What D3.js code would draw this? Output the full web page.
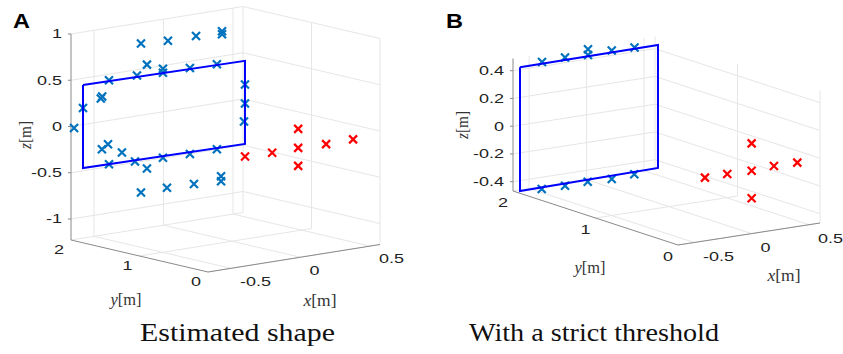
<!DOCTYPE html>
<meta charset="utf-8">
<html>
<script src="https://d3js.org/d3.v7.min.js"></script>
<style>
  body { margin: 0; background: #fff; }
</style>
<body>
<div id="my_dataviz"></div>
<script>

    // ---- panel A : estimated shape ----
    const aXTicks = [-0.5, 0, 0.5]
    const aYTicks = [0, 1, 2]
    const aZTicks = [-1, -0.5, 0, 0.5, 1]

    const aBlueX = [-0.211, -0.017, 0.185, 0.372, 0.372, -0.168, -0.053, -0.053, -0.441, -0.24, 0.141, 0.335,
                    -0.49, -0.50, -0.628, -0.643, 0.537, 0.537, 0.530, -0.492, -0.448, -0.348, -0.441, -0.254,
                    -0.168, -0.053, 0.141, 0.335, -0.211, -0.024, 0.170, 0.365, 0.365]
    const aBlueY = [1.9, 1.9, 1.9, 1.9, 1.9, 1.9, 1.9, 1.9, 1.9, 1.9, 1.9, 1.9,
                    1.9, 1.9, 1.9, 2.0, 1.9, 1.9, 1.9, 1.9, 1.9, 1.9, 1.9, 1.9,
                    1.9, 1.9, 1.9, 1.9, 1.9, 1.9, 1.9, 1.9, 1.9]
    const aBlueZ = [0.805, 0.788, 0.791, 0.798, 0.766, 0.567, 0.495, 0.452, 0.463, 0.466, 0.456, 0.450,
                    0.30, 0.28, 0.208, -0.022, 0.183, -0.022, -0.215, -0.270, -0.227, -0.339, -0.445, -0.46,
                    -0.557, -0.468, -0.473, -0.469, -0.806, -0.799, -0.805, -0.768, -0.822]

    const aRedX = [-0.3, -0.105, 0.082, 0.283, 0.477, 0.082, 0.082]
    const aRedY = [0.2, 0.2, 0.2, 0.2, 0.2, 0.2, 0.2]
    const aRedZ = [-0.100, -0.106, -0.099, -0.107, -0.102, 0.106, -0.294]

    const aRectX = [-0.628, 0.537, 0.537, -0.628, -0.628]
    const aRectY = [1.9, 1.9, 1.9, 1.9, 1.9]
    const aRectZ = [0.457, 0.438, -0.460, -0.441, 0.457]

    // ---- panel B : with a strict threshold ----
    const bXTicks = [-0.5, 0, 0.5]
    const bYTicks = [0, 1, 2]
    const bZTicks = [-0.4, -0.2, 0, 0.2, 0.4]

    const bBlueX = [-0.4235, -0.2235, -0.0235, -0.0235, 0.183, 0.381, -0.426, -0.2235, -0.026, 0.183, 0.379]
    const bBlueY = [1.95, 1.95, 1.95, 1.95, 1.95, 1.95, 1.95, 1.95, 1.95, 1.95, 1.95]
    const bBlueZ = [0.445, 0.451, 0.485, 0.444, 0.450, 0.446, -0.470, -0.473, -0.469, -0.476, -0.468]

    const bRedX = [-0.262, -0.068, 0.144, 0.338, 0.541, 0.144, 0.144]
    const bRedY = [0.2, 0.2, 0.2, 0.2, 0.2, 0.2, 0.2]
    const bRedZ = [-0.069, -0.068, -0.071, -0.062, -0.064, 0.126, -0.269]

    const bRectX = [-0.615, 0.585, 0.585, -0.615, -0.615]
    const bRectY = [1.95, 1.95, 1.95, 1.95, 1.95]
    const bRectZ = [0.431, 0.438, -0.448, -0.461, 0.431]

    // layout of each 3d box: O is the screen point of (xmin, ymin, zmin),
    // EX / EY / EZ are the screen vectors of the full x / y / z ranges
    const panels = [
      {letter: "A", letterAt: [13, 28], title: "Estimated shape", titleAt: [237.5, 341], titleLen: 195,
       xDom: [-0.665, 0.572], yDom: [0, 2], zDom: [-1.227, 1.0],
       O: [208, 272], EX: [172, -27.5], EY: [-137, -32], EZ: [0, -206],
       xTicks: aXTicks, yTicks: aYTicks, zTicks: aZTicks,
       xOff: [9, 13], yOff: [-12, 10], zOff: -9,
       xLabAt: [320, 300], yLabAt: [126, 299], zLabAt: [25, 135],
       blue: [aBlueX, aBlueY, aBlueZ], red: [aRedX, aRedY, aRedZ], rect: [aRectX, aRectY, aRectZ]},
      {letter: "B", letterAt: [446, 28], title: "With a strict threshold", titleAt: [594, 341], titleLen: 250,
       xDom: [-0.64, 0.595], yDom: [0, 2], zDom: [-0.467, 0.488],
       O: [678, 245], EX: [142, -22], EY: [-165, -54], EZ: [0, -132.5],
       xTicks: bXTicks, yTicks: bYTicks, zTicks: bZTicks,
       xOff: [9, 14], yOff: [-10, 12], zOff: -9,
       xLabAt: [784, 275], yLabAt: [590, 267], zLabAt: [462, 125],
       blue: [bBlueX, bBlueY, bBlueZ], red: [bRedX, bRedY, bRedZ], rect: [bRectX, bRectY, bRectZ]}
    ]

    const width = 843, height = 354

    const svg = d3.select("#my_dataviz")
      .append("svg")
        .attr("width", width)
        .attr("height", height)
        .style("display", "block")

    const gridColor = "#e6e6e6"
    const axisColor = "#8a8a8a"
    const textColor = "#222"
    const markerPath = "M-4,-4L4,4M-4,4L4,-4"

    panels.forEach(function(p) {
      // scales put each data axis on 0..1 of its box edge
      const sx = d3.scaleLinear().domain(p.xDom).range([0, 1])
      const sy = d3.scaleLinear().domain(p.yDom).range([0, 1])
      const sz = d3.scaleLinear().domain(p.zDom).range([0, 1])
      const proj = function(x, y, z) {
        return [p.O[0] + sx(x) * p.EX[0] + sy(y) * p.EY[0] + sz(z) * p.EZ[0],
                p.O[1] + sx(x) * p.EX[1] + sy(y) * p.EY[1] + sz(z) * p.EZ[1]]
      }
      const x0 = p.xDom[0], x1 = p.xDom[1]
      const y0 = p.yDom[0], y1 = p.yDom[1]
      const z0 = p.zDom[0], z1 = p.zDom[1]

      const g = svg.append("g")

      // grid on the back walls and the floor
      const segs = []
      p.xTicks.forEach(t => { segs.push([[t, y1, z0], [t, y1, z1]]); segs.push([[t, y0, z0], [t, y1, z0]]) })
      p.yTicks.forEach(t => { segs.push([[x1, t, z0], [x1, t, z1]]); segs.push([[x0, t, z0], [x1, t, z0]]) })
      p.zTicks.forEach(t => { segs.push([[x0, y1, t], [x1, y1, t]]); segs.push([[x1, y0, t], [x1, y1, t]]) })
      g.selectAll("line.grid")
        .data(segs)
        .join("line")
          .attr("class", "grid")
          .attr("x1", d => proj(...d[0])[0]).attr("y1", d => proj(...d[0])[1])
          .attr("x2", d => proj(...d[1])[0]).attr("y2", d => proj(...d[1])[1])
          .attr("stroke", gridColor)
          .attr("stroke-width", 1)

      // axis lines
      const axes = [[[x0, y1, z0], [x0, y1, z1]], [[x0, y1, z0], [x0, y0, z0]], [[x0, y0, z0], [x1, y0, z0]]]
      g.selectAll("line.axis")
        .data(axes)
        .join("line")
          .attr("class", "axis")
          .attr("x1", d => proj(...d[0])[0]).attr("y1", d => proj(...d[0])[1])
          .attr("x2", d => proj(...d[1])[0]).attr("y2", d => proj(...d[1])[1])
          .attr("stroke", axisColor)
          .attr("stroke-width", 1)

      const tickText = function(sel) {
        sel.attr("dominant-baseline", "central")
          .style("font-family", "'Liberation Sans', Arial, sans-serif")
          .style("font-size", "12px")
          .attr("fill", textColor)
      }

      // z ticks and labels
      p.zTicks.forEach(function(t) {
        const q = proj(x0, y1, t)
        g.append("line")
          .attr("x1", q[0] - 3).attr("y1", q[1]).attr("x2", q[0]).attr("y2", q[1])
          .attr("stroke", axisColor)
        g.append("text")
          .attr("transform", `translate(${q[0] + p.zOff},${q[1]}) scale(1.5,1)`)
          .attr("text-anchor", "end")
          .call(tickText)
          .text(t)
      })
      // y ticks and labels
      p.yTicks.forEach(function(t) {
        const q = proj(x0, t, z0)
        g.append("text")
          .attr("transform", `translate(${q[0] + p.yOff[0]},${q[1] + p.yOff[1]}) scale(1.5,1)`)
          .attr("text-anchor", "middle")
          .call(tickText)
          .text(t)
      })
      // x ticks and labels
      p.xTicks.forEach(function(t) {
        const q = proj(t, y0, z0)
        g.append("text")
          .attr("transform", `translate(${q[0] + p.xOff[0]},${q[1] + p.xOff[1]}) scale(1.5,1)`)
          .attr("text-anchor", "start")
          .call(tickText)
          .text(t)
      })

      // axis titles, x[m] y[m] z[m]
      const labs = [["x", p.xLabAt, 0, 33], ["y", p.yLabAt, 0, 31], ["z", p.zLabAt, -90, 28]]
      labs.forEach(function(l) {
        const t = g.append("text")
          .attr("transform", `translate(${l[1][0]},${l[1][1]}) rotate(${l[2]})`)
          .attr("text-anchor", "middle")
          .attr("dominant-baseline", "central")
          .attr("textLength", l[3])
          .attr("lengthAdjust", "spacingAndGlyphs")
          .style("font-family", "'Liberation Serif', 'Times New Roman', serif")
          .style("font-size", "16px")
          .attr("fill", "#333")
        t.append("tspan").style("font-style", "italic").text(l[0])
        t.append("tspan").text("[m]")
      })

      // blue measured points
      const blue = d3.range(p.blue[0].length).map(i => proj(p.blue[0][i], p.blue[1][i], p.blue[2][i]))
      g.selectAll("path.blue")
        .data(blue)
        .join("path")
          .attr("class", "blue")
          .attr("d", markerPath)
          .attr("transform", d => `translate(${d[0]},${d[1]})`)
          .attr("stroke", "#0072BD")
          .attr("stroke-width", 2.2)
          .attr("fill", "none")

      // estimated rectangle
      const rect = d3.range(p.rect[0].length).map(i => proj(p.rect[0][i], p.rect[1][i], p.rect[2][i]))
      g.append("path")
        .attr("d", d3.line()(rect))
        .attr("stroke", "#0000FF")
        .attr("stroke-width", 2)
        .attr("fill", "none")

      // red points
      const red = d3.range(p.red[0].length).map(i => proj(p.red[0][i], p.red[1][i], p.red[2][i]))
      g.selectAll("path.red")
        .data(red)
        .join("path")
          .attr("class", "red")
          .attr("d", markerPath)
          .attr("transform", d => `translate(${d[0]},${d[1]})`)
          .attr("stroke", "#FF0000")
          .attr("stroke-width", 2.2)
          .attr("fill", "none")

      // panel letter and caption
      g.append("text")
        .attr("transform", `translate(${p.letterAt[0]},${p.letterAt[1]}) scale(1.12,1)`)
        .style("font-family", "'Liberation Sans', Arial, sans-serif")
        .style("font-size", "21px")
        .style("font-weight", "bold")
        .attr("fill", "#000")
        .text(p.letter)
      g.append("text")
        .attr("x", p.titleAt[0])
        .attr("y", p.titleAt[1])
        .attr("text-anchor", "middle")
        .attr("textLength", p.titleLen)
        .attr("lengthAdjust", "spacingAndGlyphs")
        .style("font-family", "'Liberation Serif', 'Times New Roman', serif")
        .style("font-size", "25px")
        .attr("fill", "#111")
        .text(p.title)
    })

</script>
</body>
</html>
